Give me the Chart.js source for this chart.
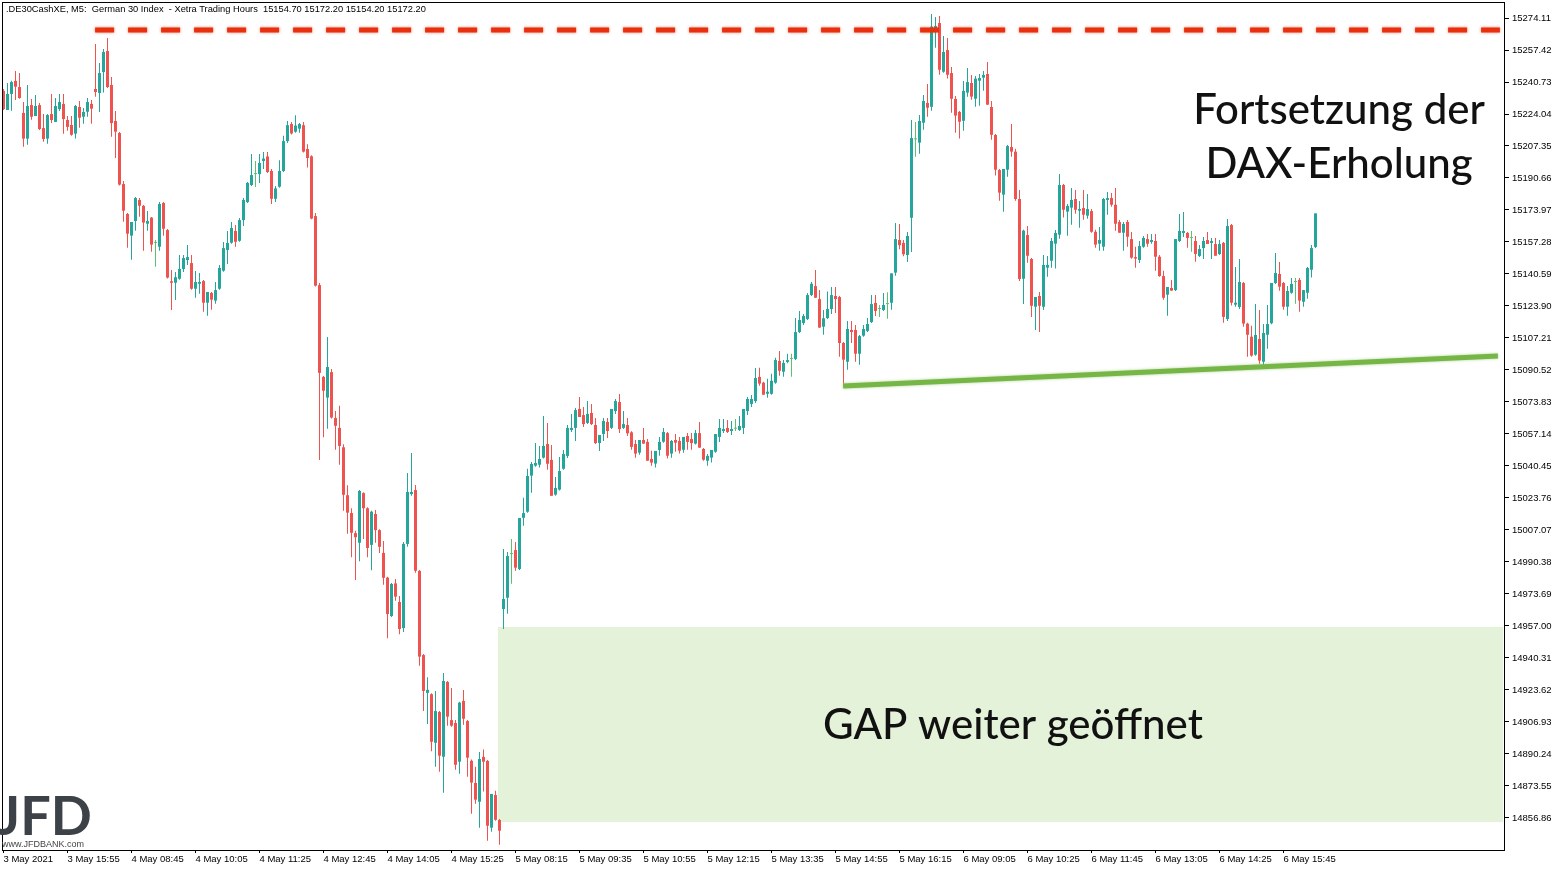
<!DOCTYPE html>
<html>
<head>
<meta charset="utf-8">
<script src="https://cdn.jsdelivr.net/npm/chart.js"></script>
<style>
  html, body { margin: 0; padding: 0; background: #fff; }
  canvas { display: block; }
</style>
</head>
<body>
<canvas id="daxChart" width="1563" height="871"></canvas>
<script>
// M5 candles, DE30 (DAX) 3-6 May 2021
const opens = [
  15236.1, 15226.1, 15234.5, 15241.3, 15238.1, 15224.6, 15211.2, 15228.7, 15223.0, 15228.7,
  15216.7, 15211.2, 15224.0, 15219.9, 15226.6, 15229.3, 15220.9, 15218.3, 15213.8, 15227.7,
  15222.6, 15225.2, 15229.3, 15237.1, 15235.0, 15245.9, 15256.9, 15239.2, 15220.4, 15214.1,
  15187.5, 15171.9, 15160.6, 15168.2, 15179.2, 15176.1, 15166.8, 15170.0, 15156.8, 15154.8,
  15177.6, 15163.5, 15136.8, 15136.0, 15138.1, 15143.2, 15147.9, 15146.3, 15132.9, 15135.5,
  15136.9, 15125.6, 15130.7, 15126.7, 15132.9, 15142.3, 15153.1, 15156.9, 15163.0, 15157.9,
  15168.7, 15178.1, 15187.0, 15192.7, 15192.7, 15199.5, 15201.9, 15194.3, 15179.8, 15186.1,
  15194.3, 15209.9, 15218.8, 15214.8, 15216.4, 15218.2, 15205.8, 15202.0, 15170.8, 15134.8,
  15086.9, 15076.1, 15089.4, 15065.5, 15060.3, 15050.2, 15025.2, 15015.9, 15005.4, 15000.4,
  15026.3, 15018.4, 14999.3, 15015.4, 15007.0, 14995.1, 14982.2, 14962.2, 14979.2, 14969.5,
  14955.9, 14999.8, 15025.8, 15027.9, 14985.7, 14941.8, 14922.1, 14921.4, 14896.1, 14912.1,
  14888.8, 14927.8, 14907.9, 14906.4, 14886.2, 14917.9, 14907.4, 14886.7, 14875.1, 14865.3,
  14888.7, 14886.6, 14851.8, 14868.8, 14855.8, 14965.8, 14971.7, 14994.5, 14996.6, 14986.7,
  15013.4, 15016.6, 15035.4, 15040.6, 15041.1, 15044.8, 15051.9, 15043.6, 15025.5, 15028.1,
  15039.0, 15045.7, 15059.2, 15060.3, 15070.2, 15067.0, 15062.9, 15068.1, 15061.8, 15052.4,
  15057.1, 15063.4, 15060.3, 15069.1, 15073.8, 15060.3, 15061.8, 15058.0, 15051.9, 15047.4,
  15054.0, 15053.0, 15044.1, 15041.7, 15048.8, 15053.1, 15057.6, 15046.9, 15054.0, 15053.5,
  15048.9, 15056.1, 15054.5, 15052.1, 15057.6, 15049.3, 15043.2, 15044.8, 15047.9, 15055.6,
  15058.7, 15060.3, 15058.7, 15059.9, 15059.2, 15060.3, 15069.1, 15072.8, 15074.3, 15086.9,
  15083.9, 15078.1, 15078.1, 15083.9, 15095.2, 15089.6, 15094.7, 15096.3, 15096.3, 15110.3,
  15115.0, 15117.1, 15129.6, 15134.3, 15127.5, 15113.1, 15117.6, 15122.3, 15129.1, 15128.6,
  15104.6, 15094.8, 15111.4, 15111.4, 15099.0, 15108.4, 15110.9, 15115.5, 15125.5, 15122.3,
  15121.8, 15124.9, 15125.6, 15141.3, 15158.3, 15156.8, 15150.5, 15169.9, 15210.8, 15209.1,
  15219.5, 15229.8, 15227.8, 15268.5, 15271.5, 15246.1, 15257.4, 15245.4, 15231.9, 15225.1,
  15220.5, 15235.2, 15240.2, 15232.0, 15241.4, 15243.0, 15244.9, 15227.7, 15213.1, 15194.8,
  15182.0, 15195.0, 15206.8, 15204.4, 15179.7, 15138.1, 15160.9, 15148.4, 15123.5, 15129.1,
  15123.5, 15143.9, 15147.5, 15156.4, 15161.1, 15187.0, 15173.1, 15175.2, 15179.7, 15173.6,
  15175.0, 15171.0, 15173.4, 15162.6, 15156.4, 15154.8, 15179.2, 15180.2, 15176.7, 15167.7,
  15162.1, 15167.7, 15158.8, 15149.4, 15147.9, 15154.8, 15158.8, 15157.3, 15157.8, 15149.6,
  15139.5, 15129.8, 15133.3, 15132.2, 15157.8, 15162.0, 15162.0, 15159.4, 15157.8, 15150.0,
  15154.1, 15158.3, 15156.8, 15156.2, 15151.0, 15156.8, 15117.1, 15166.1, 15124.6, 15123.4,
  15135.9, 15114.7, 15107.9, 15098.5, 15106.7, 15094.8, 15108.9, 15114.9, 15135.9, 15140.6,
  15135.9, 15123.5, 15130.8, 15136.4, 15137.5, 15126.1, 15130.8, 15142.8, 15154.7
];
const highs = [
  15237.1, 15240.2, 15241.4, 15246.5, 15245.4, 15230.3, 15239.2, 15231.9, 15234.0, 15229.8,
  15224.0, 15224.0, 15234.5, 15232.4, 15234.5, 15234.5, 15223.0, 15223.0, 15228.7, 15230.8,
  15227.2, 15232.4, 15231.3, 15260.6, 15250.6, 15257.9, 15263.7, 15243.3, 15225.6, 15214.6,
  15189.1, 15172.4, 15167.7, 15180.7, 15180.2, 15176.6, 15173.4, 15170.3, 15158.3, 15178.1,
  15178.1, 15164.0, 15142.7, 15141.6, 15150.5, 15150.5, 15155.7, 15150.5, 15142.1, 15141.1,
  15137.4, 15131.2, 15131.2, 15136.4, 15145.3, 15157.3, 15163.0, 15167.7, 15166.1, 15169.8,
  15180.2, 15188.6, 15203.2, 15199.5, 15203.2, 15204.2, 15204.2, 15195.4, 15186.5, 15199.9,
  15212.7, 15220.4, 15219.9, 15223.4, 15219.3, 15219.9, 15208.3, 15202.5, 15172.4, 15135.9,
  15087.4, 15107.7, 15091.0, 15069.1, 15071.8, 15051.8, 15030.4, 15018.4, 15006.7, 15027.9,
  15026.8, 15018.9, 15017.1, 15017.5, 15007.5, 15001.3, 14982.7, 14979.4, 14981.5, 14972.6,
  15000.8, 15036.8, 15047.2, 15030.5, 14986.2, 14942.4, 14930.3, 14921.9, 14923.1, 14912.6,
  14932.5, 14928.3, 14924.6, 14907.9, 14917.5, 14923.6, 14907.9, 14887.3, 14883.6, 14891.3,
  14892.5, 14887.1, 14869.4, 14871.1, 14856.3, 14997.1, 14995.6, 15002.4, 15000.8, 15013.3,
  15023.9, 15039.0, 15042.5, 15052.4, 15050.9, 15066.5, 15062.9, 15051.4, 15034.7, 15045.1,
  15048.8, 15061.8, 15067.6, 15070.7, 15076.4, 15071.2, 15074.3, 15072.8, 15065.5, 15056.6,
  15065.5, 15065.5, 15070.2, 15075.4, 15078.0, 15069.1, 15065.5, 15058.5, 15054.0, 15054.0,
  15060.3, 15054.5, 15048.4, 15048.3, 15055.6, 15060.3, 15058.2, 15054.0, 15057.1, 15055.6,
  15055.6, 15057.6, 15057.6, 15059.2, 15063.4, 15049.8, 15046.7, 15048.8, 15057.1, 15065.0,
  15065.0, 15064.4, 15063.9, 15065.0, 15066.5, 15070.2, 15076.4, 15077.5, 15091.5, 15091.7,
  15084.4, 15086.0, 15088.6, 15096.9, 15100.4, 15095.7, 15099.0, 15099.0, 15117.6, 15121.3,
  15119.7, 15130.7, 15136.4, 15142.7, 15132.2, 15121.8, 15131.4, 15133.8, 15133.8, 15129.1,
  15105.1, 15116.1, 15116.1, 15114.0, 15108.8, 15114.0, 15117.6, 15129.6, 15129.6, 15124.4,
  15130.7, 15131.0, 15140.9, 15167.2, 15166.7, 15158.3, 15162.5, 15220.9, 15219.9, 15223.5,
  15234.0, 15239.7, 15276.2, 15274.6, 15275.2, 15264.7, 15263.7, 15248.5, 15233.4, 15225.6,
  15241.3, 15248.0, 15244.4, 15243.9, 15244.9, 15246.5, 15251.2, 15230.8, 15213.6, 15195.4,
  15195.4, 15207.9, 15218.8, 15205.9, 15184.4, 15163.7, 15165.6, 15148.9, 15128.6, 15131.2,
  15150.5, 15150.0, 15159.4, 15163.5, 15192.7, 15187.5, 15177.1, 15185.4, 15184.4, 15178.7,
  15184.4, 15182.3, 15174.5, 15163.7, 15165.1, 15180.2, 15183.4, 15182.8, 15185.4, 15168.7,
  15167.7, 15168.7, 15162.5, 15154.8, 15157.8, 15160.4, 15161.4, 15161.4, 15161.4, 15150.5,
  15142.3, 15133.8, 15137.5, 15158.8, 15171.9, 15172.9, 15162.5, 15163.0, 15160.4, 15155.7,
  15159.9, 15162.5, 15159.4, 15159.4, 15158.3, 15157.3, 15169.3, 15166.6, 15144.2, 15148.4,
  15136.4, 15115.2, 15113.6, 15124.9, 15121.8, 15114.5, 15124.4, 15135.9, 15151.5, 15146.8,
  15136.4, 15134.3, 15138.5, 15138.5, 15138.5, 15132.2, 15144.2, 15155.7, 15172.2
];
const lows = [
  15226.1, 15226.1, 15225.8, 15231.3, 15232.0, 15207.0, 15208.0, 15221.1, 15223.0, 15215.7,
  15209.6, 15208.5, 15219.3, 15219.9, 15225.6, 15213.8, 15215.3, 15212.7, 15211.2, 15216.9,
  15219.0, 15222.6, 15219.0, 15233.1, 15225.1, 15235.2, 15237.6, 15212.2, 15201.1, 15186.7,
  15167.9, 15154.3, 15148.0, 15163.2, 15170.5, 15152.7, 15163.2, 15152.2, 15144.4, 15152.7,
  15160.6, 15138.2, 15121.8, 15127.0, 15137.6, 15141.6, 15145.3, 15132.4, 15128.2, 15130.3,
  15120.9, 15118.8, 15122.0, 15125.1, 15132.4, 15141.8, 15145.8, 15156.4, 15154.8, 15157.4,
  15165.6, 15177.6, 15186.5, 15186.0, 15188.1, 15195.3, 15193.3, 15177.1, 15178.1, 15185.6,
  15193.8, 15208.9, 15213.3, 15214.3, 15214.3, 15203.9, 15196.1, 15169.2, 15134.0, 15043.6,
  15055.4, 15059.9, 15065.2, 15048.9, 15041.1, 15017.1, 15005.1, 14992.9, 14981.0, 14990.7,
  15002.4, 14992.9, 14986.1, 15000.4, 14995.1, 14978.5, 14950.6, 14961.7, 14970.2, 14952.7,
  14953.8, 14998.3, 15024.9, 14984.8, 14936.3, 14912.7, 14905.9, 14891.6, 14883.6, 14881.0,
  14870.0, 14905.0, 14904.4, 14882.0, 14879.9, 14905.5, 14878.4, 14859.0, 14864.3, 14851.8,
  14870.6, 14845.0, 14849.7, 14855.4, 14842.9, 14955.4, 14963.4, 14979.0, 14985.8, 14986.2,
  15009.3, 15016.1, 15026.5, 15040.1, 15039.6, 15044.3, 15038.5, 15024.9, 15024.9, 15027.6,
  15038.5, 15044.6, 15058.2, 15053.5, 15066.0, 15060.8, 15062.4, 15061.8, 15051.9, 15048.3,
  15053.5, 15055.0, 15059.7, 15067.6, 15057.7, 15059.8, 15056.1, 15048.9, 15044.8, 15046.3,
  15052.1, 15043.2, 15040.6, 15039.6, 15045.8, 15052.6, 15044.3, 15044.8, 15047.9, 15046.9,
  15047.4, 15048.9, 15048.9, 15051.6, 15050.0, 15043.2, 15040.6, 15042.2, 15047.4, 15053.0,
  15057.6, 15057.6, 15056.6, 15058.7, 15058.7, 15057.1, 15067.0, 15071.2, 15073.3, 15082.3,
  15077.6, 15076.1, 15077.6, 15083.4, 15087.5, 15087.0, 15094.0, 15087.0, 15095.7, 15109.8,
  15114.0, 15116.6, 15129.1, 15128.2, 15112.6, 15108.9, 15117.1, 15119.7, 15120.2, 15097.4,
  15083.4, 15090.7, 15104.6, 15094.8, 15093.3, 15107.9, 15110.3, 15115.0, 15118.7, 15118.2,
  15121.3, 15117.3, 15122.0, 15139.7, 15153.5, 15149.8, 15146.8, 15152.1, 15201.8, 15203.3,
  15215.8, 15222.6, 15225.8, 15258.6, 15244.5, 15245.6, 15242.5, 15224.7, 15214.3, 15211.2,
  15215.3, 15233.1, 15231.5, 15227.8, 15228.4, 15236.2, 15228.9, 15210.6, 15191.9, 15178.8,
  15173.1, 15191.3, 15201.8, 15178.8, 15136.9, 15124.9, 15146.5, 15118.2, 15111.4, 15110.3,
  15121.8, 15139.2, 15143.9, 15143.4, 15159.0, 15170.0, 15160.6, 15166.3, 15172.0, 15164.7,
  15168.9, 15169.4, 15162.1, 15154.3, 15152.7, 15152.7, 15171.5, 15175.7, 15163.2, 15162.1,
  15152.7, 15154.8, 15148.6, 15143.9, 15146.3, 15154.3, 15154.8, 15156.4, 15142.3, 15139.2,
  15127.2, 15118.8, 15131.9, 15131.7, 15157.3, 15159.9, 15154.3, 15152.2, 15147.0, 15149.5,
  15148.4, 15156.2, 15148.4, 15150.1, 15150.5, 15115.2, 15116.1, 15124.1, 15123.5, 15122.3,
  15113.1, 15097.4, 15097.4, 15098.0, 15093.8, 15092.7, 15101.6, 15114.4, 15135.4, 15131.9,
  15122.0, 15118.8, 15130.3, 15125.1, 15120.9, 15123.5, 15127.7, 15138.7, 15154.2
];
const closes = [
  15226.6, 15234.5, 15240.7, 15238.3, 15232.4, 15211.2, 15228.2, 15222.6, 15228.2, 15216.2,
  15211.0, 15223.5, 15220.9, 15228.2, 15230.3, 15221.4, 15217.3, 15213.2, 15228.2, 15222.1,
  15225.1, 15230.3, 15226.8, 15235.5, 15245.4, 15256.4, 15238.1, 15219.3, 15214.8, 15187.2,
  15173.6, 15161.6, 15167.7, 15180.2, 15176.2, 15167.4, 15168.2, 15155.9, 15156.8, 15177.1,
  15164.2, 15138.7, 15136.0, 15138.9, 15143.2, 15148.9, 15149.4, 15132.9, 15136.4, 15136.4,
  15125.6, 15131.2, 15127.2, 15132.2, 15143.7, 15154.1, 15156.8, 15164.6, 15157.4, 15168.7,
  15179.2, 15188.1, 15192.2, 15192.7, 15198.5, 15200.8, 15193.8, 15179.8, 15185.2, 15194.3,
  15209.9, 15218.2, 15213.9, 15218.0, 15218.8, 15204.4, 15201.1, 15169.5, 15134.5, 15089.0,
  15079.7, 15092.1, 15065.7, 15061.4, 15050.9, 15025.4, 15016.1, 15005.6, 15003.3, 15027.4,
  15018.4, 14997.7, 15016.6, 15007.0, 14998.3, 14982.1, 14963.2, 14978.9, 14972.3, 14955.4,
  14999.8, 15026.9, 15026.9, 14985.8, 14941.0, 14923.1, 14923.7, 14896.6, 14912.6, 14889.3,
  14928.3, 14909.7, 14905.0, 14884.6, 14917.0, 14908.6, 14888.3, 14875.3, 14866.4, 14887.6,
  14886.2, 14852.8, 14869.4, 14855.9, 14850.2, 14971.1, 14993.5, 14994.5, 14987.4, 15013.3,
  15015.9, 15035.2, 15041.5, 15042.0, 15044.1, 15050.9, 15041.6, 15024.9, 15029.0, 15037.8,
  15046.7, 15060.3, 15060.3, 15069.6, 15066.0, 15062.3, 15067.6, 15062.3, 15052.4, 15056.6,
  15063.9, 15058.7, 15070.2, 15074.3, 15059.7, 15062.3, 15057.5, 15050.4, 15046.9, 15054.0,
  15052.1, 15043.2, 15042.2, 15048.3, 15053.0, 15058.2, 15045.8, 15053.5, 15052.6, 15048.4,
  15055.6, 15053.0, 15052.4, 15057.6, 15050.0, 15043.7, 15045.7, 15048.8, 15057.1, 15060.3,
  15059.7, 15058.2, 15059.7, 15059.9, 15061.3, 15070.2, 15075.4, 15075.4, 15086.3, 15083.4,
  15077.6, 15079.2, 15084.9, 15095.7, 15090.1, 15094.2, 15095.7, 15096.3, 15110.3, 15116.6,
  15118.7, 15129.6, 15135.5, 15128.2, 15112.6, 15117.5, 15122.3, 15129.6, 15127.5, 15104.6,
  15095.9, 15111.9, 15110.3, 15099.0, 15108.2, 15111.9, 15114.5, 15124.9, 15121.3, 15122.3,
  15124.4, 15124.9, 15140.9, 15158.8, 15155.6, 15150.9, 15160.4, 15211.5, 15210.8, 15220.4,
  15230.8, 15227.3, 15269.6, 15269.9, 15247.1, 15256.4, 15244.5, 15232.0, 15223.2, 15220.0,
  15236.1, 15240.7, 15233.1, 15242.5, 15242.8, 15244.4, 15228.9, 15213.2, 15195.0, 15183.0,
  15195.4, 15207.3, 15204.4, 15179.7, 15138.0, 15163.2, 15150.1, 15124.0, 15128.6, 15124.0,
  15145.3, 15145.3, 15157.8, 15162.0, 15187.0, 15174.1, 15176.1, 15179.2, 15174.1, 15174.5,
  15171.5, 15174.5, 15162.6, 15155.9, 15158.3, 15179.7, 15180.2, 15176.7, 15166.8, 15162.1,
  15166.7, 15160.0, 15149.1, 15148.6, 15155.2, 15159.4, 15156.4, 15158.3, 15149.6, 15139.5,
  15128.2, 15133.8, 15131.9, 15158.8, 15163.0, 15163.0, 15159.4, 15159.4, 15151.0, 15153.6,
  15157.8, 15156.2, 15157.8, 15150.1, 15156.2, 15118.2, 15165.6, 15125.6, 15125.6, 15136.4,
  15114.7, 15108.9, 15098.0, 15108.8, 15095.4, 15109.8, 15114.5, 15135.9, 15141.1, 15134.0,
  15123.5, 15131.7, 15135.4, 15136.4, 15126.7, 15132.2, 15143.7, 15154.1, 15172.2
];

// one time label every 16 bars
const xTickLabels = [
  '3 May 2021', '3 May 15:55', '4 May 08:45', '4 May 10:05', '4 May 11:25', '4 May 12:45',
  '4 May 14:05', '4 May 15:25', '5 May 08:15', '5 May 09:35', '5 May 10:55', '5 May 12:15',
  '5 May 13:35', '5 May 14:55', '5 May 16:15', '6 May 09:05', '6 May 10:25', '6 May 11:45',
  '6 May 13:05', '6 May 14:25', '6 May 15:45'
];
const yTicks = [
  15274.11, 15257.42, 15240.73, 15224.04, 15207.35, 15190.66, 15173.97, 15157.28, 15140.59,
  15123.90, 15107.21, 15090.52, 15073.83, 15057.14, 15040.45, 15023.76, 15007.07, 14990.38,
  14973.69, 14957.00, 14940.31, 14923.62, 14906.93, 14890.24, 14873.55, 14856.86
];

// drawn-in levels: [bar index, price]
const resistance = [[22.9, 15267.9], [374.1, 15267.9]];
const support = [[209.9, 15082.2], [373.6, 15097.8]];
const gapZone = [[123.6, 14956.5], [374.9, 14854.7]];

const upColor = '#26a69a';
const downColor = '#ef5350';
const dojiColor = '#5dbf72';

const header = '.DE30CashXE, M5:  German 30 Index  - Xetra Trading Hours  15154.70 15172.20 15154.20 15172.20';

const barColors = opens.map((o, i) => closes[i] > o ? upColor : (closes[i] < o ? downColor : dojiColor));

const overlay = {
  id: 'overlay',
  beforeDatasetsDraw(chart) {
    const {ctx, scales: {x, y}} = chart;
    const x0 = x.getPixelForValue(gapZone[0][0]), x1 = x.getPixelForValue(gapZone[1][0]);
    const y0 = y.getPixelForValue(gapZone[0][1]), y1 = y.getPixelForValue(gapZone[1][1]);
    ctx.save();
    ctx.fillStyle = '#e4f2da';
    ctx.fillRect(x0, y0, x1 - x0, y1 - y0);
    ctx.restore();
  },
  afterDatasetsDraw(chart) {
    const {ctx, scales: {x, y}} = chart;
    ctx.save();
    // resistance (dashed red)
    ctx.strokeStyle = '#e8300e';
    ctx.lineWidth = 5;
    ctx.setLineDash([19, 14]);
    ctx.shadowColor = 'rgba(232,48,14,0.6)';
    ctx.shadowBlur = 3;
    ctx.beginPath();
    ctx.moveTo(x.getPixelForValue(resistance[0][0]), y.getPixelForValue(resistance[0][1]));
    ctx.lineTo(x.getPixelForValue(resistance[1][0]), y.getPixelForValue(resistance[1][1]));
    ctx.stroke();
    // support (green)
    ctx.setLineDash([]);
    ctx.strokeStyle = '#76b646';
    ctx.shadowColor = 'rgba(118,182,70,0.6)';
    ctx.beginPath();
    ctx.moveTo(x.getPixelForValue(support[0][0]), y.getPixelForValue(support[0][1]));
    ctx.lineTo(x.getPixelForValue(support[1][0]), y.getPixelForValue(support[1][1]));
    ctx.stroke();
    ctx.restore();
  },
  afterDraw(chart) {
    const {ctx, chartArea: a} = chart;
    ctx.save();
    // frame
    ctx.strokeStyle = '#000';
    ctx.lineWidth = 1;
    ctx.strokeRect(a.left + 0.5, a.top + 0.5, a.right - a.left - 1, a.bottom - a.top);
    // header
    ctx.fillStyle = '#000';
    ctx.font = '9.3px "Liberation Sans"';
    ctx.textBaseline = 'middle';
    ctx.textAlign = 'left';
    ctx.fillText(header, 6, 9.5);
    // comments
    ctx.fillStyle = '#111';
    ctx.font = '500 42px Lato';
    ctx.textAlign = 'center';
    ctx.textBaseline = 'alphabetic';
    ctx.fillText('Fortsetzung der', 1339, 124);
    ctx.fillText('DAX-Erholung', 1339, 178);
    ctx.fillText('GAP weiter geöffnet', 1013, 739);
    // logo
    ctx.fillStyle = '#3d4249';
    ctx.font = 'bold 54px Lato';
    ctx.textAlign = 'left';
    ctx.fillText('JFD', -3, 835);
    ctx.font = '9px "Liberation Sans"';
    ctx.fillStyle = '#444';
    ctx.fillText('www.JFDBANK.com', 2, 847);
    ctx.restore();
  }
};

new Chart(document.getElementById('daxChart'), {
  type: 'bar',
  data: {
    datasets: [
      {
        label: 'wick',
        data: opens.map((o, i) => ({x: i, y: [lows[i], highs[i]]})),
        backgroundColor: barColors,
        barThickness: 1,
        grouped: false,
        inflateAmount: 0,
        order: 2
      },
      {
        label: 'body',
        data: opens.map((o, i) => ({x: i, y: [o, closes[i]]})),
        backgroundColor: barColors,
        barThickness: 3,
        minBarLength: 1,
        grouped: false,
        inflateAmount: 0,
        order: 1
      }
    ]
  },
  options: {
    responsive: false,
    animation: false,
    layout: { padding: { left: 2, top: 2, right: 0, bottom: 0 } },
    plugins: { legend: { display: false }, tooltip: { enabled: false } },
    scales: {
      x: {
        type: 'linear',
        min: -0.375,
        max: 375.375,
        offset: false,
        border: { display: false },
        grid: { display: true, drawOnChartArea: false, drawTicks: true, tickLength: 3, color: '#000', offset: false },
        afterBuildTicks: s => { s.ticks = xTickLabels.map((_, k) => ({ value: k * 16 })); },
        afterFit: s => { s.height = 21; s.paddingLeft = 0; s.paddingRight = 0; },
        ticks: {
          autoSkip: false,
          maxRotation: 0,
          align: 'start',
          padding: 1,
          color: '#000',
          font: { family: 'Liberation Sans', size: 9.5 },
          callback: v => xTickLabels[Math.round(v / 16)]
        }
      },
      y: {
        position: 'right',
        min: 14840.14,
        max: 15282.46,
        border: { display: false },
        grid: { display: true, drawOnChartArea: false, drawTicks: true, tickLength: 4, color: '#000' },
        afterBuildTicks: s => { s.ticks = yTicks.map(v => ({ value: v })); },
        afterFit: s => { s.width = 58; s.paddingTop = 0; s.paddingBottom = 0; },
        ticks: {
          padding: 3,
          color: '#000',
          font: { family: 'Liberation Sans', size: 9.5 },
          callback: v => v.toFixed(2)
        }
      }
    }
  },
  plugins: [overlay]
});
</script>
</body>
</html>
